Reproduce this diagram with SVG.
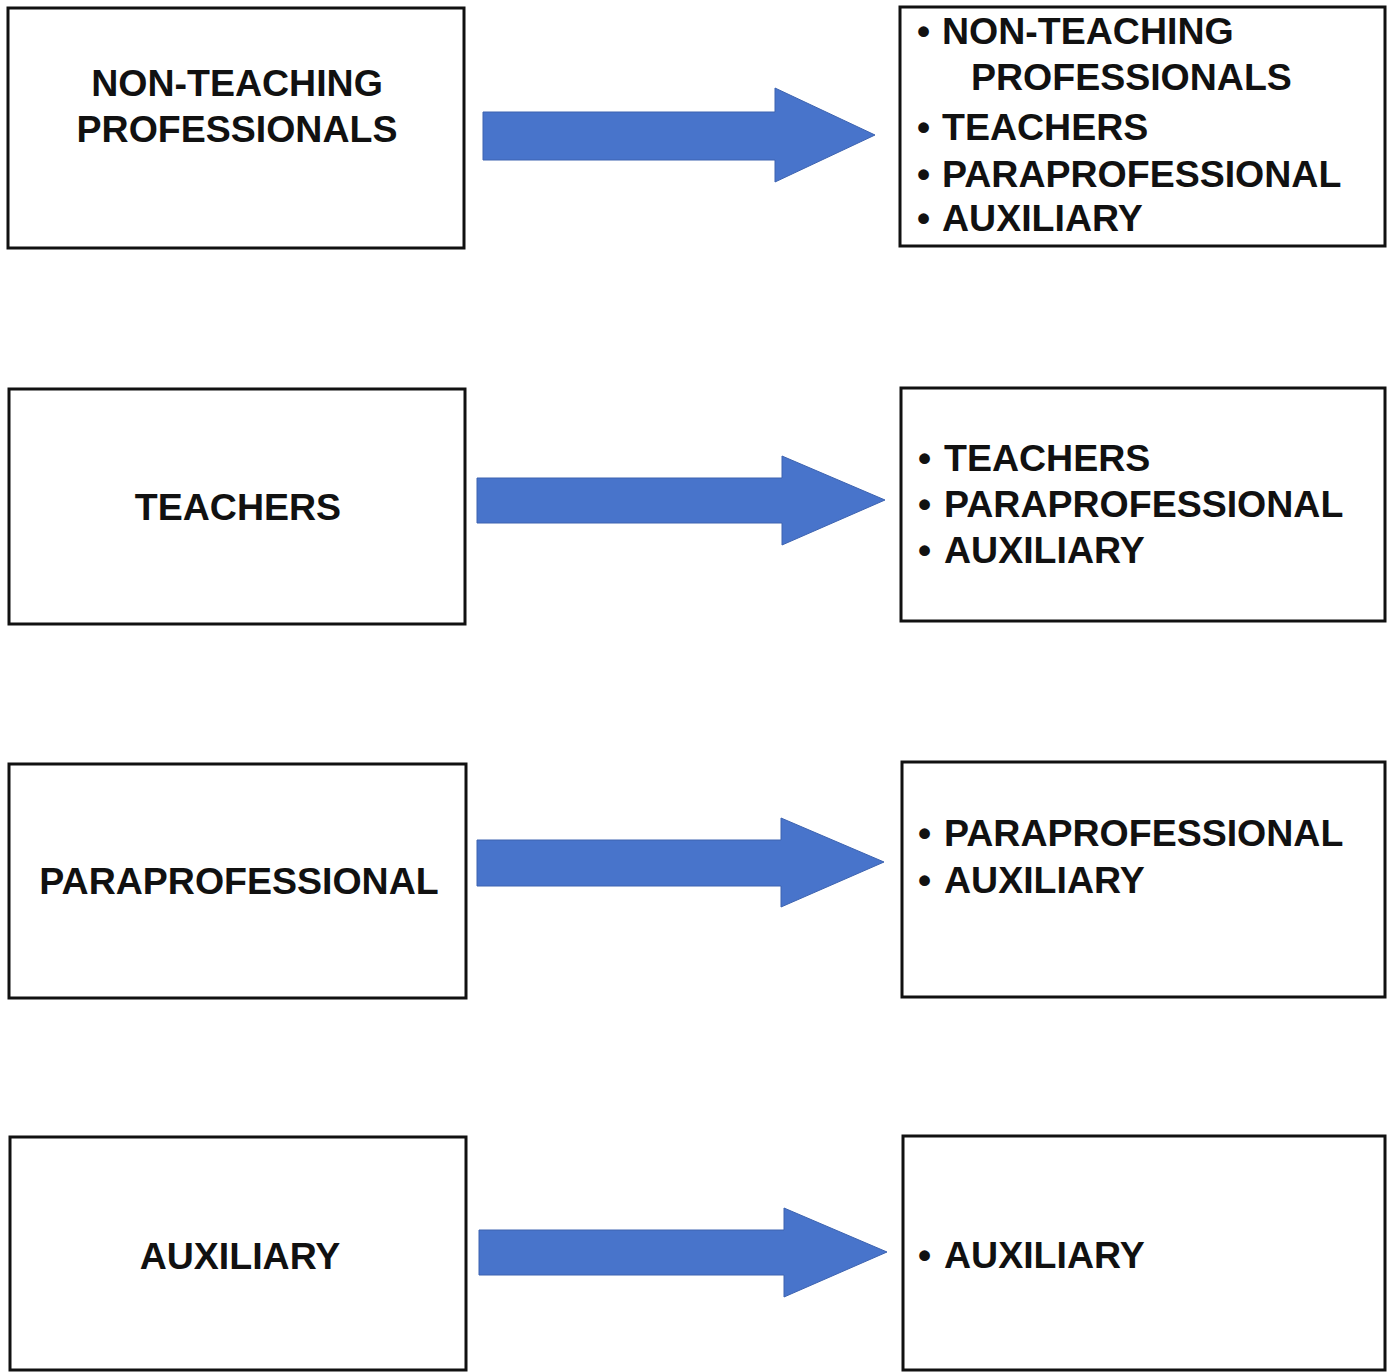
<svg xmlns="http://www.w3.org/2000/svg" width="1388" height="1372" viewBox="0 0 1388 1372">
<style>
.box{fill:#fff;stroke:#111;stroke-width:3}
.t{font-family:"Liberation Sans",Arial,sans-serif;font-weight:bold;font-size:37.5px;fill:#111}
.c{text-anchor:middle}
.arr{fill:#4874CB;stroke:#3d63b0;stroke-width:1}
</style>
<rect width="1388" height="1372" fill="#fff"/>
<g id="left-nonteaching"><rect class="box" x="8" y="8" width="456" height="240"/>
<text class="t c" x="237" y="96">NON-TEACHING</text><text class="t c" x="237" y="142">PROFESSIONALS</text></g>
<g id="left-teachers"><rect class="box" x="9" y="389" width="456" height="235"/>
<text class="t c" x="238" y="520">TEACHERS</text></g>
<g id="left-para"><rect class="box" x="9" y="764" width="457" height="234"/>
<text class="t c" x="239" y="894">PARAPROFESSIONAL</text></g>
<g id="left-aux"><rect class="box" x="10" y="1137" width="456" height="233"/>
<text class="t c" x="240" y="1269">AUXILIARY</text></g>
<g id="right-1"><rect class="box" x="900" y="7" width="485" height="239"/>
<text class="t" x="917" y="44">•</text><text class="t" x="942" y="44">NON-TEACHING</text>
<text class="t" x="971" y="90">PROFESSIONALS</text>
<text class="t" x="917" y="140">•</text><text class="t" x="942" y="140">TEACHERS</text>
<text class="t" x="917" y="187">•</text><text class="t" x="942" y="187">PARAPROFESSIONAL</text>
<text class="t" x="917" y="231">•</text><text class="t" x="942" y="231">AUXILIARY</text></g>
<g id="right-2"><rect class="box" x="901" y="388" width="484" height="233"/>
<text class="t" x="918" y="471">•</text><text class="t" x="944" y="471">TEACHERS</text>
<text class="t" x="918" y="517">•</text><text class="t" x="944" y="517">PARAPROFESSIONAL</text>
<text class="t" x="918" y="563">•</text><text class="t" x="944" y="563">AUXILIARY</text></g>
<g id="right-3"><rect class="box" x="902" y="762" width="483" height="235"/>
<text class="t" x="918" y="846">•</text><text class="t" x="944" y="846">PARAPROFESSIONAL</text>
<text class="t" x="918" y="893">•</text><text class="t" x="944" y="893">AUXILIARY</text></g>
<g id="right-4"><rect class="box" x="903" y="1136" width="482" height="234"/>
<text class="t" x="918" y="1268">•</text><text class="t" x="944" y="1268">AUXILIARY</text></g>
<g id="connectors">
<polygon class="arr" points="483,112 775,112 775,88 875,135 775,182 775,160 483,160"/>
<polygon class="arr" points="477,478 782,478 782,456 885,500 782,545 782,523 477,523"/>
<polygon class="arr" points="477,840 781,840 781,818 884,862 781,907 781,886 477,886"/>
<polygon class="arr" points="479,1230 784,1230 784,1208 887,1252 784,1297 784,1275 479,1275"/>
</g>
</svg>
